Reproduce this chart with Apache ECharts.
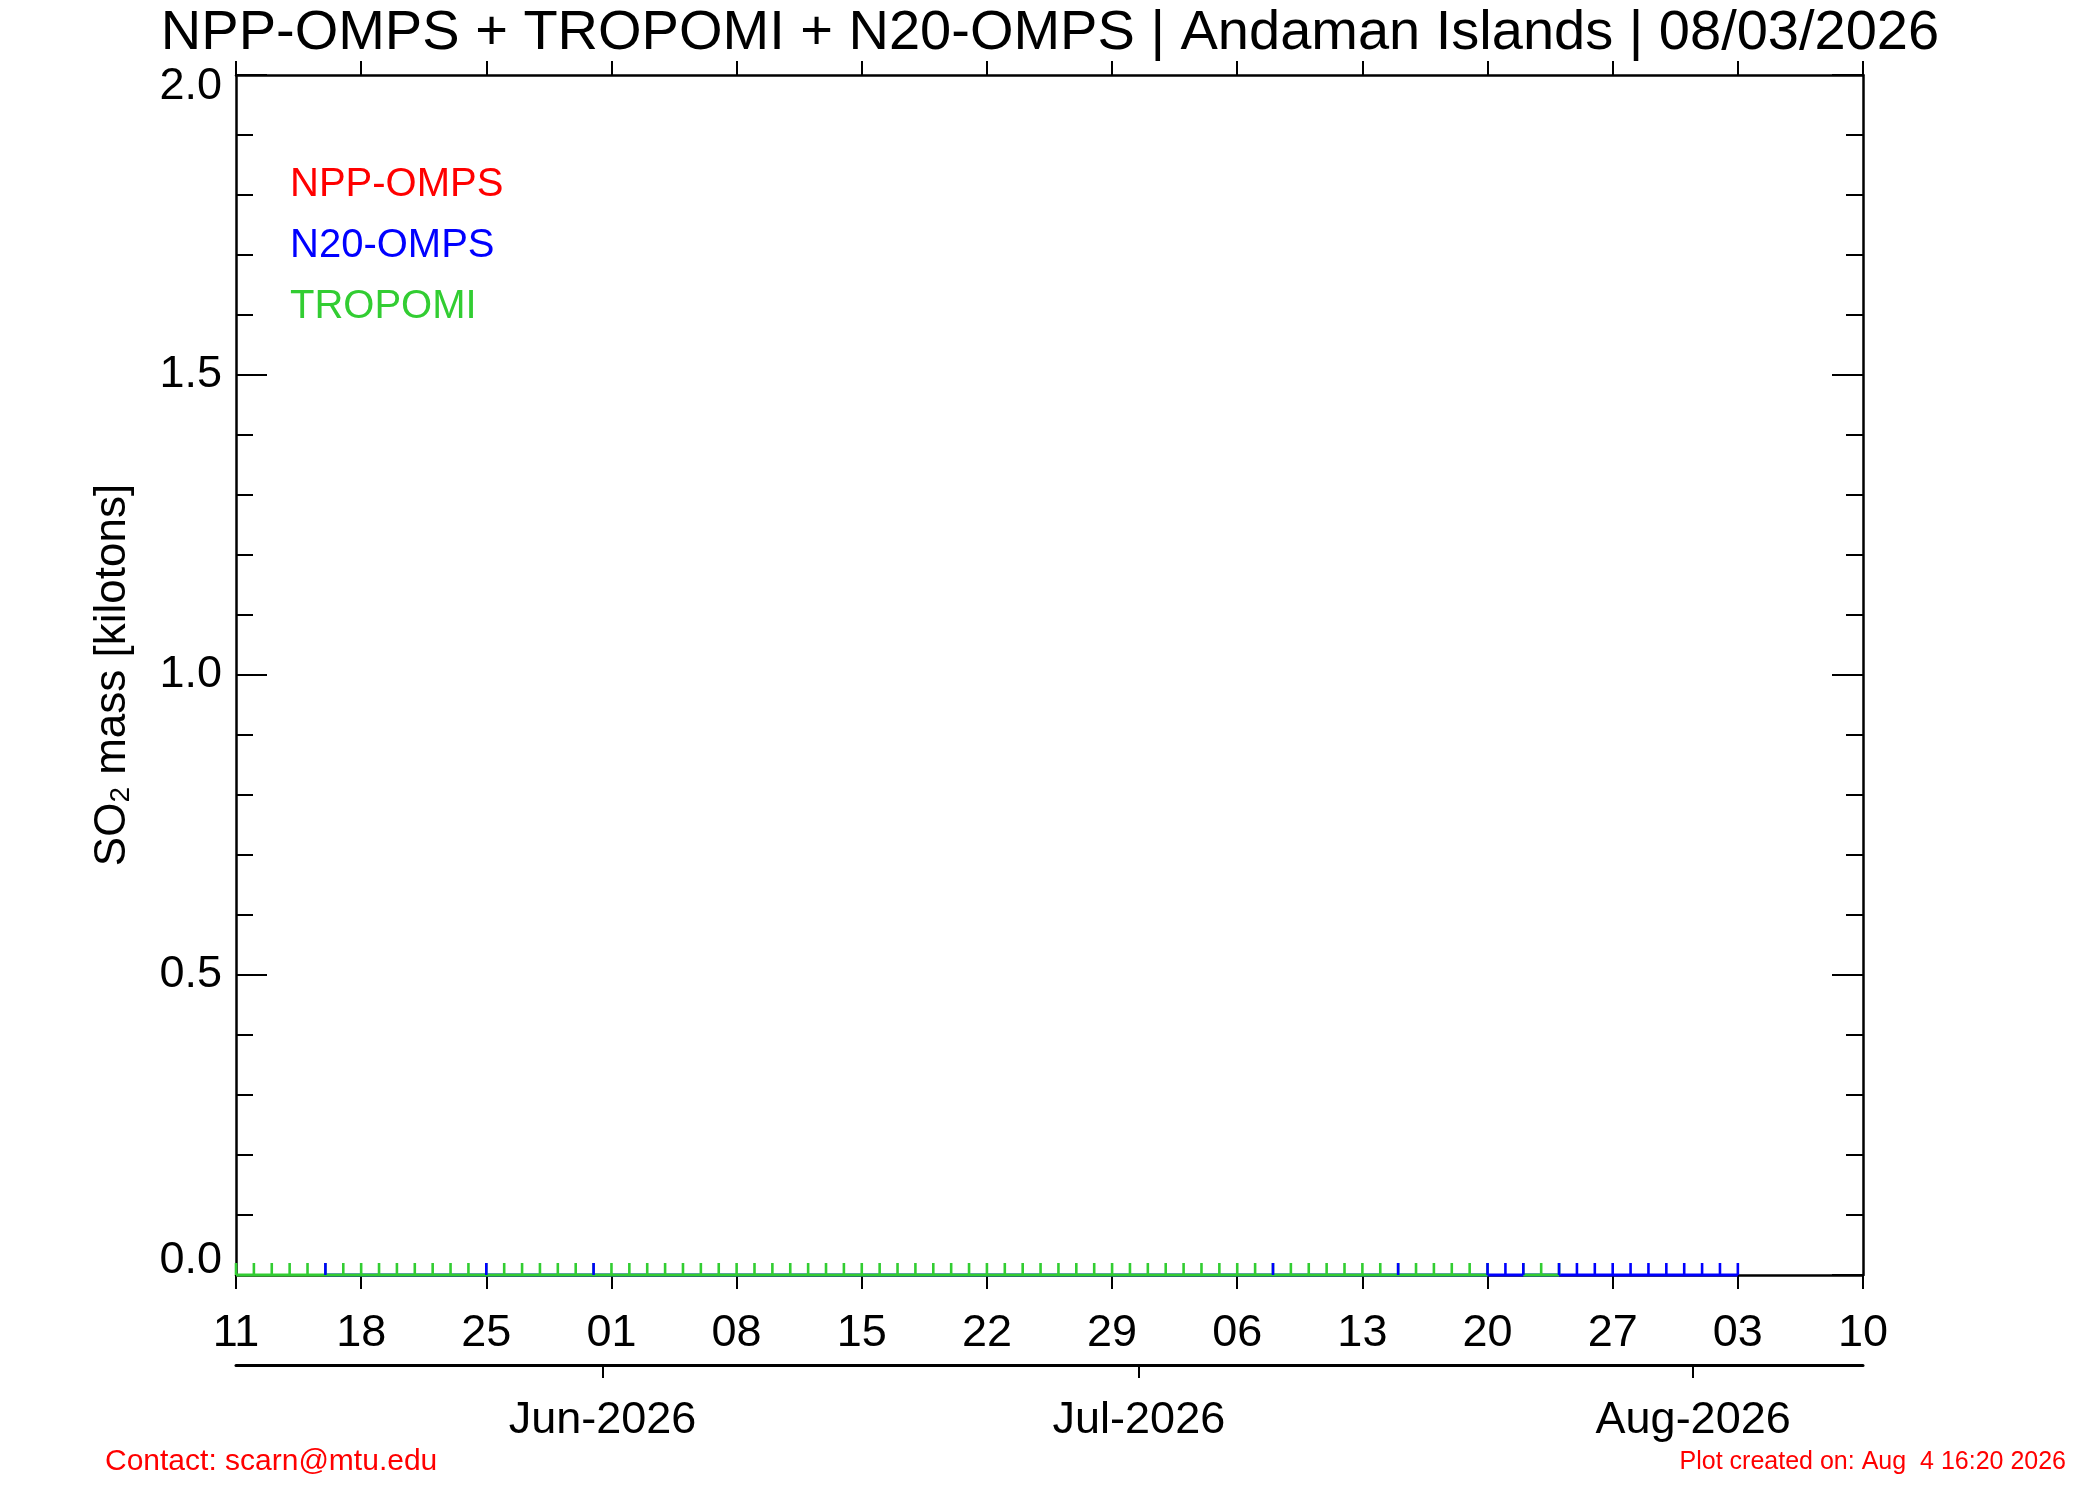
<!DOCTYPE html>
<html>
<head>
<meta charset="utf-8">
<script src="https://cdn.jsdelivr.net/npm/echarts@6/dist/echarts.min.js"></script>
<style>
html,body{margin:0;padding:0;background:#fff;}
#chart{width:2100px;height:1500px;}
</style>
</head>
<body>
<div id="chart"></div>
<script>
// ---- data ----
const startDate = '2026-05-11';
const dayCount = 92; // 11 May .. 10 Aug 2026
const monthNames = ['Jan','Feb','Mar','Apr','May','Jun','Jul','Aug','Sep','Oct','Nov','Dec'];
const categories = [];
(function(){
  const d0 = new Date(startDate + 'T00:00:00Z');
  for (let i = 0; i < dayCount; i++) {
    const d = new Date(d0.getTime() + i * 86400000);
    categories.push(d.toISOString().slice(0, 10));
  }
})();
// half-day positions for the month axis (month boundaries fall between days)
const halfDayCategories = [];
for (let k = 0; k <= (dayCount - 1) * 2; k++) {
  halfDayCategories.push(k % 2 === 0 ? categories[k / 2] : categories[(k + 1) / 2]);
}
const yTicks = [0, 0.5, 1.0, 1.5, 2.0];

// SO2 mass [kilotons], one entry per day (null = no observation)
const nppValues = [];
const tropomiValues = [
  0,0,0,0,0,0,0,0,0,0, 0,0,0,0,0,0,0,0,0,0,
  0,0,0,0,0,0,0,0,0,0, 0,0,0,0,0,0,0,0,0,0,
  0,0,0,0,0,0,0,0,0,0, 0,0,0,0,0,0,0,0,0,0,
  0,0,0,0,0,0,0,0,0,0, 0,null,0,0,0,null,null,null,null,null,
  null,null,null,null,null,null,null,null,null,null, null,null
];
const n20Values = [
  null,null,null,null,null,0,null,null,null,null, null,null,null,null,0,null,null,null,null,null,
  0,null,null,null,null,null,null,null,null,null, null,null,null,null,null,null,null,null,null,null,
  null,null,null,null,null,null,null,null,null,null, null,null,null,null,null,null,null,null,0,null,
  null,null,null,null,null,0,null,null,null,null, 0,0,0,null,0,0,0,0,0,0,
  0,0,0,0,0,null,null,null,null,null, null,null
];

// ---- chart ----
const FONT = '"Liberation Sans", Arial, Helvetica, sans-serif';
const RED = '#ff0000', BLUE = '#0000ff', GREEN = '#32cd32';
const isWeek = (i) => i % 7 === 0;
const isMonthBoundary = (k) => k % 2 === 1 && halfDayCategories[k].slice(8, 10) === '01';

const chart = echarts.init(document.getElementById('chart'), null, {renderer: 'canvas'});

const markSymbol = {
  symbol: 'rect',
  symbolSize: [2.6, 12],
  symbolOffset: [0, -6],
  showSymbol: true,
  showAllSymbol: true
};

chart.setOption({
  backgroundColor: '#ffffff',
  animation: false,
  textStyle: {fontFamily: FONT},
  title: [
    {
      text: 'NPP-OMPS + TROPOMI + N20-OMPS | Andaman Islands | 08/03/2026',
      left: 'center', top: 1,
      textStyle: {fontSize: 56, fontWeight: 'normal', color: '#000', fontFamily: FONT}
    },
    {
      text: 'Contact: scarn@mtu.edu',
      left: 100, top: 1442,
      textStyle: {fontSize: 30, fontWeight: 'normal', color: RED, fontFamily: FONT}
    },
    {
      text: 'Plot created on: Aug  4 16:20 2026',
      right: 29, top: 1445,
      textStyle: {fontSize: 25, fontWeight: 'normal', color: RED, fontFamily: FONT}
    }
  ],
  legend: {
    orient: 'vertical',
    left: 280, top: 160,
    icon: 'none',
    itemWidth: 0, itemHeight: 38,
    itemGap: 21,
    selectedMode: false,
    textStyle: {fontSize: 40, fontFamily: FONT},
    data: [
      {name: 'NPP-OMPS', textStyle: {color: RED}},
      {name: 'N20-OMPS', textStyle: {color: BLUE}},
      {name: 'TROPOMI', textStyle: {color: GREEN}}
    ]
  },
  grid: {left: 236, right: 237, top: 75, bottom: 225, containLabel: false},
  xAxis: [
    {
      type: 'category', position: 'bottom', data: categories, boundaryGap: false,
      axisLine: {show: true, onZero: false, lineStyle: {color: '#000', width: 2.5}},
      axisTick: {show: true, interval: (i) => isWeek(i), length: 14, inside: false, lineStyle: {color: '#000', width: 2}},
      axisLabel: {
        show: true, interval: (i) => isWeek(i), margin: 36,
        fontSize: 45, color: '#000', fontFamily: FONT,
        formatter: (v) => v.slice(8, 10)
      },
      splitLine: {show: false}
    },
    {
      type: 'category', position: 'top', data: categories, boundaryGap: false,
      axisLine: {show: true, onZero: false, lineStyle: {color: '#000', width: 2.5}},
      axisTick: {show: true, interval: (i) => isWeek(i), length: 14, inside: false, lineStyle: {color: '#000', width: 2}},
      axisLabel: {show: false},
      splitLine: {show: false}
    },
    {
      type: 'category', position: 'bottom', offset: 90, data: halfDayCategories, boundaryGap: false,
      axisLine: {show: true, onZero: false, lineStyle: {color: '#000', width: 3}},
      axisTick: {show: true, interval: (k) => isMonthBoundary(k), length: 13, inside: false, lineStyle: {color: '#000', width: 2}},
      axisLabel: {
        show: true, interval: (k) => isMonthBoundary(k), margin: 33,
        fontSize: 45, color: '#000', fontFamily: FONT,
        formatter: (v) => monthNames[parseInt(v.slice(5, 7), 10) - 1] + '-' + v.slice(0, 4)
      },
      splitLine: {show: false}
    }
  ],
  yAxis: [
    {
      type: 'value', position: 'left', min: yTicks[0], max: yTicks[yTicks.length - 1], interval: 0.5,
      name: 'SO{sub|2} mass [kilotons]',
      nameLocation: 'middle', nameGap: 101, nameRotate: 90,
      nameTextStyle: {
        fontSize: 44, color: '#000', fontFamily: FONT,
        rich: {sub: {fontSize: 28, verticalAlign: 'bottom', color: '#000', fontFamily: FONT}}
      },
      axisLine: {show: true, onZero: false, lineStyle: {color: '#000', width: 2.5}},
      axisTick: {show: true, inside: true, length: 31, lineStyle: {color: '#000', width: 2}},
      minorTick: {show: true, splitNumber: 5, length: 17, lineStyle: {color: '#000', width: 2}},
      axisLabel: {
        show: true, margin: 14, fontSize: 45, color: '#000', fontFamily: FONT,
        formatter: (v) => v === yTicks[yTicks.length - 1] ? '{hi|' + v.toFixed(1) + '}'
                        : v === yTicks[0] ? '{lo|' + v.toFixed(1) + '}' : v.toFixed(1),
        rich: {
          hi: {fontSize: 45, color: '#000', fontFamily: FONT, padding: [24, 0, 0, 0]},
          lo: {fontSize: 45, color: '#000', fontFamily: FONT, padding: [0, 0, 28, 0]}
        }
      },
      splitLine: {show: false}
    },
    {
      type: 'value', position: 'right', min: yTicks[0], max: yTicks[yTicks.length - 1], interval: 0.5,
      axisLine: {show: true, onZero: false, lineStyle: {color: '#000', width: 2.5}},
      axisTick: {show: true, inside: true, length: 31, lineStyle: {color: '#000', width: 2}},
      minorTick: {show: true, splitNumber: 5, length: 17, lineStyle: {color: '#000', width: 2}},
      axisLabel: {show: false},
      splitLine: {show: false}
    }
  ],
  series: [
    {
      name: 'NPP-OMPS', type: 'line', xAxisIndex: 0, yAxisIndex: 0,
      data: nppValues, clip: false, z: 1,
      lineStyle: {color: RED, width: 3}, itemStyle: {color: RED},
      ...markSymbol
    },
    {
      name: 'N20-OMPS', type: 'line', xAxisIndex: 0, yAxisIndex: 0,
      data: n20Values, connectNulls: true, clip: false, z: 2,
      showSymbol: false, symbol: 'none',
      lineStyle: {color: BLUE, width: 3}, itemStyle: {color: BLUE}
    },
    {
      name: 'TROPOMI', type: 'line', xAxisIndex: 0, yAxisIndex: 0,
      data: tropomiValues, connectNulls: false, clip: false, z: 3,
      lineStyle: {color: GREEN, width: 3}, itemStyle: {color: GREEN},
      ...markSymbol
    },
    {
      name: 'N20-OMPS', type: 'line', xAxisIndex: 0, yAxisIndex: 0,
      data: n20Values, connectNulls: true, clip: false, z: 4,
      lineStyle: {width: 0, opacity: 0}, itemStyle: {color: BLUE},
      ...markSymbol
    }
  ]
});
</script>
</body>
</html>
